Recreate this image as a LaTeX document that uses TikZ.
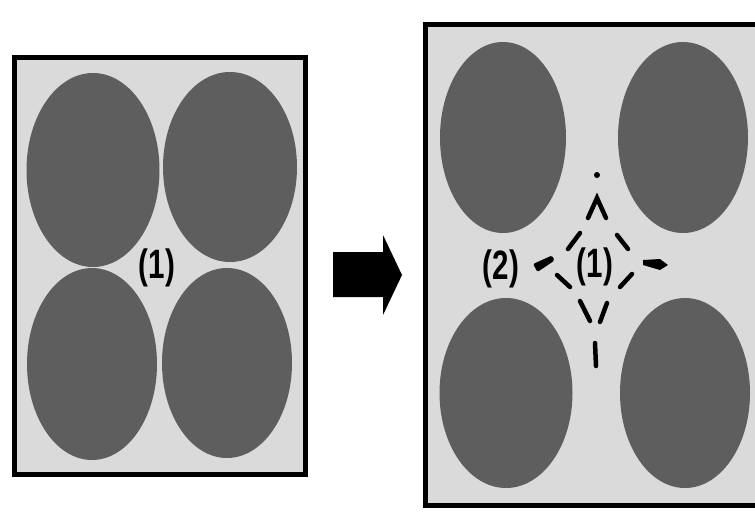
\documentclass[tikz,border=0pt]{standalone}
\usepackage{fontspec}
\setmainfont{Liberation Sans}
\usetikzlibrary{shapes.geometric}
\definecolor{bgfill}{HTML}{DADADA}
\definecolor{grain}{HTML}{5E5E5E}
\begin{document}
\begin{tikzpicture}[x=1pt,y=-1pt,
  panel/.style={draw=black,line width=5pt,fill=bgfill},
  grainel/.style={ellipse,fill=grain,draw=none,inner sep=0pt},
  lbl/.style={font=\bfseries\fontsize{41}{41}\selectfont,inner sep=0pt},
  dsh/.style={line width=4.5pt,line cap=round,black}]
\useasboundingbox (0,0) rectangle (755,512);
\fill[white] (0,0) rectangle (755,512);
\begin{scope}
\clip (0,0) rectangle (755,512);
% left panel
\draw[panel] (14.5,57.5) rectangle (305.5,474.5);
\node[grainel,minimum width=133pt,minimum height=194pt] (l1) at (93,170) {};
\node[grainel,minimum width=134pt,minimum height=190pt] (l2) at (230,167) {};
\node[grainel,minimum width=130pt,minimum height=192pt] (l3) at (92,364) {};
\node[grainel,minimum width=130pt,minimum height=190pt] (l4) at (227,363) {};
\node[lbl] (lt) at (157,267.5) {\scalebox{0.72}[1]{(1)}};
% arrow
\fill[black] (333,252) -- (383,252) -- (383,235) -- (402,275) -- (383,315) -- (383,297) -- (333,297) -- cycle;
% right panel
\draw[panel] (425.5,24.5) rectangle (770,505.5);
\node[grainel,minimum width=126pt,minimum height=191pt] (r1) at (503,137.5) {};
\node[grainel,minimum width=130pt,minimum height=191pt] (r2) at (683,137.5) {};
\node[grainel,minimum width=133pt,minimum height=190pt] (r3) at (506,393) {};
\node[grainel,minimum width=130pt,minimum height=190pt] (r4) at (685,393) {};
\node[lbl] (rt1) at (595,267) {\scalebox{0.72}[1]{(1)}};
\node[lbl] (rt2) at (501,269) {\scalebox{0.72}[1]{(2)}};
% dashed star outline
\fill[black] (597,175) circle (3);
\draw[dsh] (588,218) -- (597,198) -- (606,218);
\draw[dsh] (568,249) -- (580,233);
\draw[dsh] (617,235) -- (628,249);
\fill[black,rounded corners=1.5pt] (533,264) -- (552,255.5) -- (554.5,260.5) -- (537.5,272) -- cycle;
\fill[black] (643,260) -- (660,259) -- (668,265) -- (660,270) -- (643,265) -- cycle;
\draw[dsh] (557,275) -- (570,287);
\draw[dsh] (620,287) -- (632,274);
\draw[dsh] (580,301) -- (590,321);
\draw[dsh] (607,303) -- (600,322);
\draw[dsh] (595,343) -- (596,366);
\end{scope}
\end{tikzpicture}
\end{document}
